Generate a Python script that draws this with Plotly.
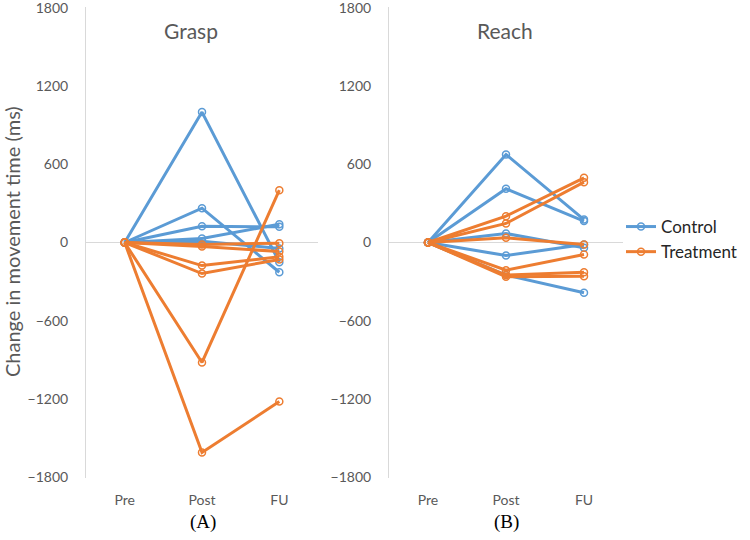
import plotly.graph_objects as go

categories = ["Pre", "Post", "FU"]
y_ticks = [1800, 1200, 600, 0, -600, -1200, -1800]

# Each row: one participant, values at Pre, Post, FU (ms)
grasp_control = [
    [0, 1000, -151],
    [0, 263, -228],
    [0, 125, 120],
    [0, 31, 140],
    [0, 10, -46],
]
grasp_treatment = [
    [0, -15, -5],
    [0, -31, -69],
    [0, -177, -110],
    [0, -238, -130],
    [0, -920, 401],
    [0, -1611, -1220],
]
reach_control = [
    [0, 675, 176],
    [0, 412, 164],
    [0, 69, -41],
    [0, -100, -15],
    [0, -250, -386],
]
reach_treatment = [
    [0, 202, 496],
    [0, 146, 463],
    [0, 36, -15],
    [0, -212, -92],
    [0, -250, -228],
    [0, -262, -258],
]

BLUE = "#5B9BD5"
ORANGE = "#ED7D31"
GRAY = "#595959"
FONT = "Lato"

W, H = 750, 540


def px_x(p):
    return p / W


def px_y(p):
    return 1 - p / H


fig = go.Figure()

shown = set()


def add_group(rows, name, color, xa, ya):
    for r in rows:
        show = name not in shown
        shown.add(name)
        fig.add_trace(go.Scatter(
            x=categories, y=r, mode="lines+markers", name=name,
            legendgroup=name, showlegend=show,
            line=dict(color=color, width=3),
            marker=dict(symbol="circle-open", size=7, color=color,
                        line=dict(width=1.5, color=color)),
            xaxis=xa, yaxis=ya,
        ))


add_group(grasp_control, "Control", BLUE, "x", "y")
add_group(grasp_treatment, "Treatment", ORANGE, "x", "y")
add_group(reach_control, "Control", BLUE, "x2", "y2")
add_group(reach_treatment, "Treatment", ORANGE, "x2", "y2")

xcommon = dict(
    type="category", categoryorder="array", categoryarray=categories,
    showgrid=False, zeroline=False, showline=False, automargin=False,
    ticks="outside", ticklen=9, tickcolor="rgba(0,0,0,0)",
    tickfont=dict(family=FONT, size=14, color=GRAY),
    range=[-0.5, 2.5],
)
ycommon = dict(
    range=[-1806, 1806], tickvals=y_ticks, automargin=False,
    ticklabeloverflow="allow",
    showgrid=False, zeroline=True, zerolinecolor="#D9D9D9", zerolinewidth=1,
    showline=True, linecolor="#D9D9D9", linewidth=1,
    ticks="outside", ticklen=14, tickcolor="rgba(0,0,0,0)",
    tickfont=dict(family=FONT, size=14, color=GRAY),
)

ydom = [px_y(478), px_y(7)]

fig.update_layout(
    width=W, height=H,
    margin=dict(l=0, r=0, t=0, b=0),
    paper_bgcolor="white", plot_bgcolor="white",
    font=dict(family=FONT, color=GRAY),
    xaxis=dict(domain=[px_x(86), px_x(318)], anchor="y", **xcommon),
    yaxis=dict(domain=ydom, anchor="x", **ycommon),
    xaxis2=dict(domain=[px_x(389), px_x(623)], anchor="y2", **xcommon),
    yaxis2=dict(domain=ydom, anchor="x2", **ycommon),
    legend=dict(x=px_x(621), y=px_y(209), xanchor="left", yanchor="top",
                font=dict(family=FONT, size=17, color="#262626"),
                bgcolor="rgba(0,0,0,0)", tracegroupgap=0),
    showlegend=True,
)


def ann(text, x, y, size, color=GRAY, family=FONT, angle=0):
    return dict(text=text, x=px_x(x), y=px_y(y), xref="paper", yref="paper",
                xanchor="center", yanchor="middle", showarrow=False,
                textangle=angle, font=dict(family=family, size=size, color=color))


annotations = [
    ann("Grasp", 191, 31, 21),
    ann("Reach", 505, 31, 21),
    ann("Change in movement time (ms)", 12, 242, 20, angle=-90),
    ann("(A)", 203, 522, 19, color="black", family="Liberation Serif"),
    ann("(B)", 506, 522, 19, color="black", family="Liberation Serif"),
]
fig.update_layout(annotations=annotations)

fig.write_html("out.html",
               config={"displayModeBar": False},
               post_script="document.body.style.margin='0';"
                           "document.body.style.overflow='hidden';")
